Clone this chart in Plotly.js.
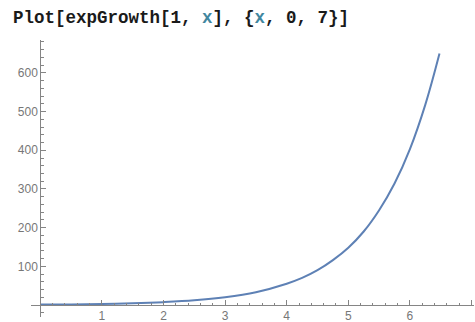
<!DOCTYPE html>
<html>
<head>
<meta charset="utf-8">
<script src="https://cdn.plot.ly/plotly-3.0.1.min.js"></script>
<style>html,body{margin:0;padding:0;background:#fff;}#chart{width:475px;height:322px;}</style>
</head>
<body>
<div id="chart"></div>
<script>
// Values
const xValues = [0, 0.5, 1, 1.5, 2, 2.5, 3, 3.5, 4, 4.25, 4.5, 4.75, 5, 5.25, 5.5, 5.75, 6, 6.25, 6.48];
const yValues = [1, 1.6, 2.7, 4.5, 7.4, 12, 20, 33, 55, 70, 90, 116, 148, 190, 245, 314, 403, 518, 650];
const xTickVals = [1, 2, 3, 4, 5, 6, 7];
const yTickVals = [100, 200, 300, 400, 500, 600];
const titleParts = ['Plot[expGrowth[1, ', 'x', '], {', 'x', ', 0, 7}]'];

const varColor = '#41879f';
const titleHtml = titleParts.map((p, i) => p === 'x' ? '<span style="color:' + varColor + '">' + p + '</span>' : p).join('');

const axisColor = '#858585';
const labelFont = {family: 'Liberation Sans, Arial, sans-serif', size: 12, color: '#777777'};

const xr = [-0.15, 7.04];
const yr = [-31, 685];

const data = [{
  x: xValues, y: yValues, type: 'scatter', mode: 'lines',
  line: {color: '#5e81b5', width: 2, shape: 'spline', smoothing: 1.0},
  hoverinfo: 'none'
}];

const layout = {
  width: 475, height: 322,
  margin: {l: 31, r: 1, t: 40, b: 5},
  paper_bgcolor: '#ffffff', plot_bgcolor: '#ffffff',
  showlegend: false,
  title: {
    text: titleHtml,
    font: {family: 'Liberation Mono, Courier New, monospace', size: 17.5, color: '#1a1a1a', weight: 'bold'},
    xref: 'container', yref: 'container', x: 13/475, xanchor: 'left', y: 1 - 17/322, yanchor: 'middle'
  },
  xaxis: {
    range: xr, showgrid: false, zeroline: false,
    showline: true, linecolor: axisColor, linewidth: 1,
    anchor: 'free', position: (0 - yr[0]) / (yr[1] - yr[0]),
    tickmode: 'array', tickvals: xTickVals,
    ticks: 'inside', ticklen: 5, tickcolor: axisColor, tickwidth: 1,
    minor: {dtick: 0.2, tick0: 0, ticks: 'inside', ticklen: 2.5, tickcolor: axisColor, showgrid: false},
    tickfont: labelFont, ticklabelstandoff: 0
  },
  yaxis: {
    range: yr, showgrid: false, zeroline: false,
    showline: true, linecolor: axisColor, linewidth: 1,
    anchor: 'free', position: (0 - xr[0]) / (xr[1] - xr[0]),
    tickmode: 'array', tickvals: yTickVals,
    ticks: 'inside', ticklen: 5, tickcolor: axisColor, tickwidth: 1,
    minor: {dtick: 20, tick0: 0, ticks: 'inside', ticklen: 2.5, tickcolor: axisColor, showgrid: false},
    tickfont: labelFont
  }
};

Plotly.newPlot('chart', data, layout, {displayModeBar: false, staticPlot: true});
</script>
</body>
</html>
